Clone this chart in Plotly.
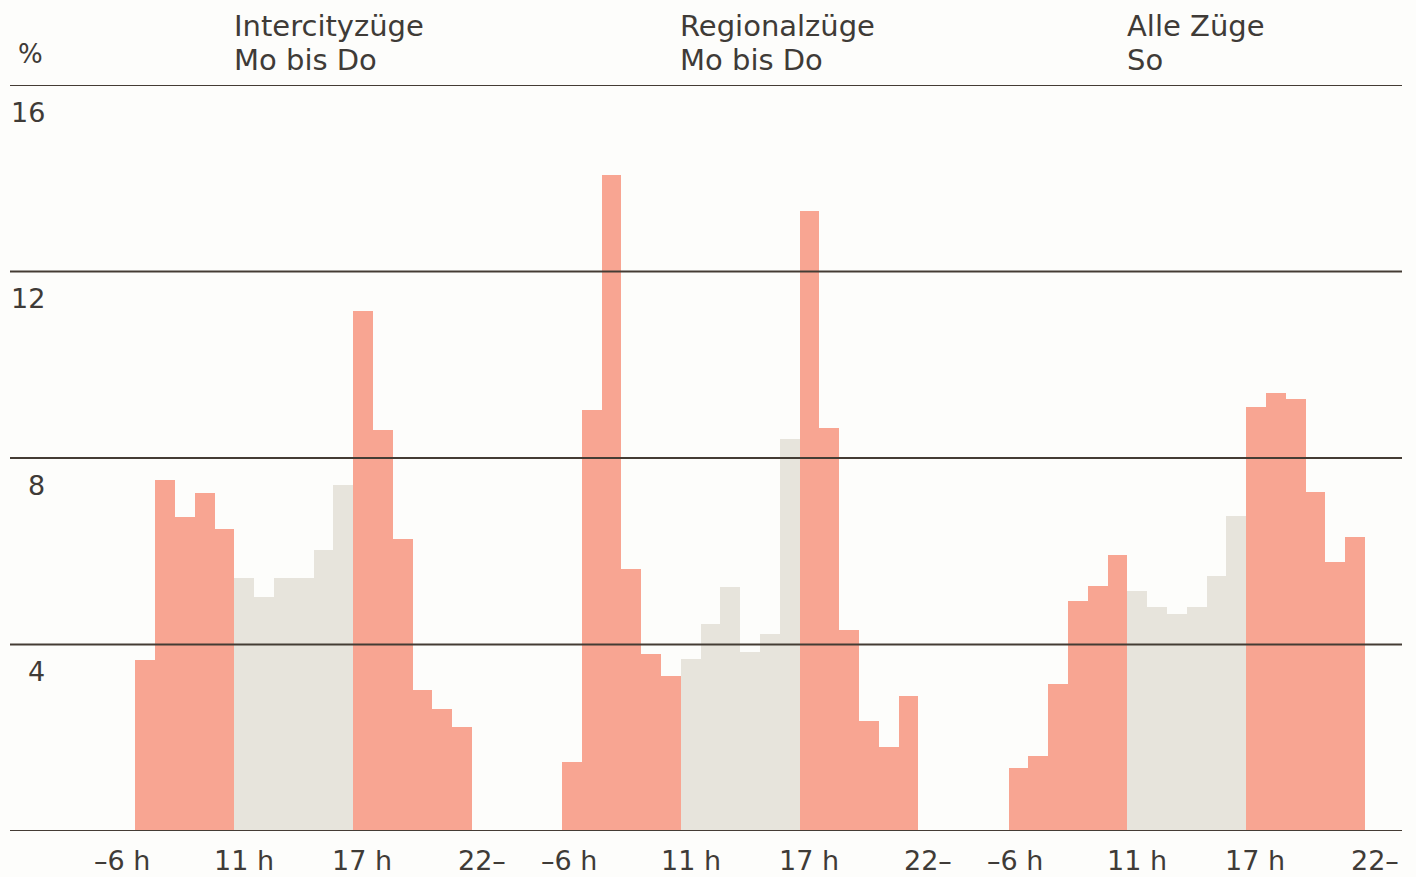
import plotly.graph_objects as go

# ---- data ----
hours = ["–6", "6", "7", "8", "9", "10", "11", "12", "13", "14", "15", "16",
         "17", "18", "19", "20", "21", "22–"]
period = ["Spitze"] * 6 + ["Neben"] * 6 + ["Spitze"] * 6

intercity_mo_do = [None, 3.67, 7.53, 6.74, 7.25, 6.48, 5.43, 5.02, 5.43, 5.43,
                   6.03, 7.42, 11.16, 8.60, 6.27, 3.03, 2.62, 2.23]
regional_mo_do = [1.48, 9.04, 14.08, 5.63, 3.79, 3.32, 3.69, 4.45, 5.23, 3.83,
                  4.23, 8.41, 13.30, 8.64, 4.31, 2.35, 1.80, 2.90]
alle_so = [1.35, 1.60, 3.15, 4.93, 5.25, 5.93, 5.15, 4.81, 4.65, 4.81,
           5.46, 6.75, 9.10, 9.40, 9.27, 7.27, 5.77, 6.30]

panel_titles = [("Intercityzüge", "Mo bis Do"),
                ("Regionalzüge", "Mo bis Do"),
                ("Alle Züge", "So")]
tick_labels = ["–6 h", "11 h", "17 h", "22–"]
y_ticks = [4, 8, 12, 16]

# ---- style / layout ----
RED = "#F8A592"
GREY = "#E7E4DC"
LINE = "#443c34"
TEXT = "#3f3b37"
FONT = "DejaVu Sans"
PANEL_OFFSET = 22.55
tick_pos = [-0.15, 6.0, 11.95, 18.0]
title_dx = 5.38

series = [intercity_mo_do, regional_mo_do, alle_so]
colors = [RED if p == "Spitze" else GREY for p in period]

fig = go.Figure()
for i, vals in enumerate(series):
    xs = [i * PANEL_OFFSET + k for k in range(len(hours))]
    fig.add_trace(go.Bar(
        x=xs, y=vals, width=1.0,
        marker=dict(color=colors, line=dict(width=0)),
        customdata=hours, hovertemplate="%{customdata} h: %{y}%<extra></extra>",
        showlegend=False,
    ))

shapes = []
for v in [0] + y_ticks:
    shapes.append(dict(type="line", xref="paper", yref="y", x0=0, x1=1, y0=v, y1=v,
                       line=dict(color=LINE, width=2.2), layer="above"))

ann = []
for v in y_ticks:
    ann.append(dict(x=-3.96, y=v - 0.58, xref="x", yref="y", text=str(v),
                    showarrow=False, xanchor="right", yanchor="middle",
                    font=dict(family=FONT, size=27, color=TEXT)))
ann.append(dict(x=-4.77, y=1.0416, xref="x", yref="paper", text="%",
                showarrow=False, xanchor="center", yanchor="middle",
                font=dict(family=FONT, size=26, color=TEXT)))

for i, (t1, t2) in enumerate(panel_titles):
    off = i * PANEL_OFFSET
    ann.append(dict(x=off + title_dx, y=1.079, xref="x", yref="paper", text=t1,
                    showarrow=False, xanchor="left", yanchor="middle",
                    font=dict(family=FONT, size=29, color=TEXT)))
    ann.append(dict(x=off + title_dx, y=1.0335, xref="x", yref="paper", text=t2,
                    showarrow=False, xanchor="left", yanchor="middle",
                    font=dict(family=FONT, size=29, color=TEXT)))
    for lab, p in zip(tick_labels, tick_pos):
        ann.append(dict(x=off + p, y=-0.0389, xref="x", yref="paper", text=lab,
                        showarrow=False, xanchor="center", yanchor="middle",
                        font=dict(family=FONT, size=27, color=TEXT)))

fig.update_layout(
    width=1416, height=877,
    margin=dict(l=10, r=14, t=85, b=46),
    paper_bgcolor="#FDFDFB", plot_bgcolor="#FDFDFB",
    bargap=0,
    xaxis=dict(range=[-5.828, 64.47], showgrid=False, zeroline=False,
               showticklabels=False, showline=False, fixedrange=True),
    yaxis=dict(range=[0, 16], showgrid=False, zeroline=False,
               showticklabels=False, showline=False, fixedrange=True),
    shapes=shapes, annotations=ann,
)

fig.write_html("out.html", config={"displayModeBar": False},
               post_script="document.body.style.margin='0';document.body.style.background='#FDFDFB';")
